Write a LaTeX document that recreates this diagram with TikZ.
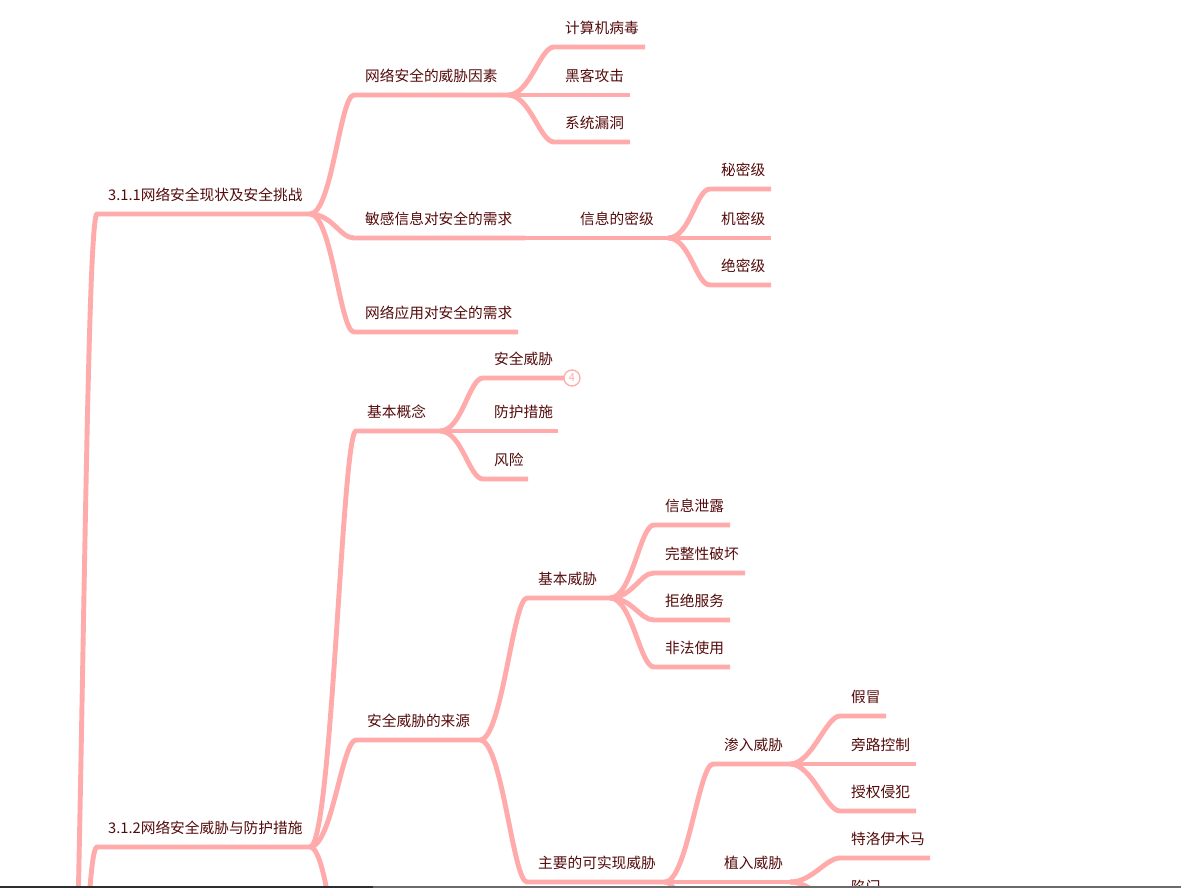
\documentclass[tikz,border=0pt]{standalone}
\usepackage{fontspec}
\newfontfamily\cjk{Noto Sans CJK SC}
\definecolor{branchpink}{RGB}{255,171,171}
\definecolor{topicred}{RGB}{84,10,10}

\begin{document}
\begin{tikzpicture}[x=1pt, y=-1pt,
    branch/.style={draw=branchpink, line width=4.9pt},
    topic/.style={anchor=base west, inner sep=0pt, text=topicred, font=\cjk\fontsize{14.7}{17}\selectfont}]
  \useasboundingbox (0,0) rectangle (1181,888);
  \clip (0,0) rectangle (1181,888);

  % central topic lies below the visible part
  \coordinate (e-root) at (60,1250);

  \foreach \name/\up/\sx/\ex/\y/\txt in {
      t1/root/97/310/214/3.1.1网络安全现状及安全挑战,
      a1/t1/354/508/95/网络安全的威胁因素,
      a11/a1/554/645/47/计算机病毒,
      a12/a1/554/630/95/黑客攻击,
      a13/a1/554/630/142/系统漏洞,
      a2/t1/354/525/238/敏感信息对安全的需求,
      a21/a2/569/668/238/信息的密级,
      a211/a21/710/771/189/秘密级,
      a212/a21/710/771/238/机密级,
      a213/a21/710/771/285/绝密级,
      a3/t1/354/518/332/网络应用对安全的需求,
      t2/root/97/310/847/3.1.2网络安全威胁与防护措施,
      b1/t2/356/440/431/基本概念,
      b11/b1/483/564/378/安全威胁,
      b12/b1/483/558/431/防护措施,
      b13/b1/483/528/479/风险,
      b2/t2/356/480/740/安全威胁的来源,
      b21/b2/527/610/598/基本威胁,
      b211/b21/654/730/525/信息泄露,
      b212/b21/654/745/573/完整性破坏,
      b213/b21/654/730/620/拒绝服务,
      b214/b21/654/730/667/非法使用,
      b22/b2/527/665/882/主要的可实现威胁,
      b221/b22/713/790/764/渗入威胁,
      b2211/b221/840/886/716/假冒,
      b2212/b221/840/916/764/旁路控制,
      b2213/b221/840/916/811/授权侵犯,
      b222/b22/713/790/882/植入威胁,
      b2221/b222/840/930/858/特洛伊木马,
      b2222/b222/840/886/906/陷门} {
    \coordinate (s-\name) at (\sx,\y);
    \coordinate (e-\name) at (\ex,\y);
    \node[topic] (\name) at (\sx+11,\y-13.5) {\txt};
    \draw[branch] (e-\up) .. controls +(22,0) and +(-14,0) .. (s-\name) -- (e-\name);
  }

  % branches that run out of the visible part
  \coordinate (s-b3) at (356,1050);
  \coordinate (s-b223) at (713,1000);
  \draw[branch] (e-t2) .. controls +(22,0) and +(-14,0) .. (s-b3);
  \draw[branch] (e-b22) .. controls +(22,0) and +(-14,0) .. (s-b223);

  % folded count
  \node[circle, draw=branchpink, fill=white, line width=1.3pt, minimum size=16pt, inner sep=0pt,
        text=branchpink, font=\cjk\fontsize{11}{11}\selectfont] (b11-more) at (572,378) {4};

  % window edge
  \draw[line width=2pt, color=black!82] (0,887) -- (373,887);
  \draw[line width=2pt, color=black!58] (373,887) -- (1181,887);
\end{tikzpicture}
\end{document}
